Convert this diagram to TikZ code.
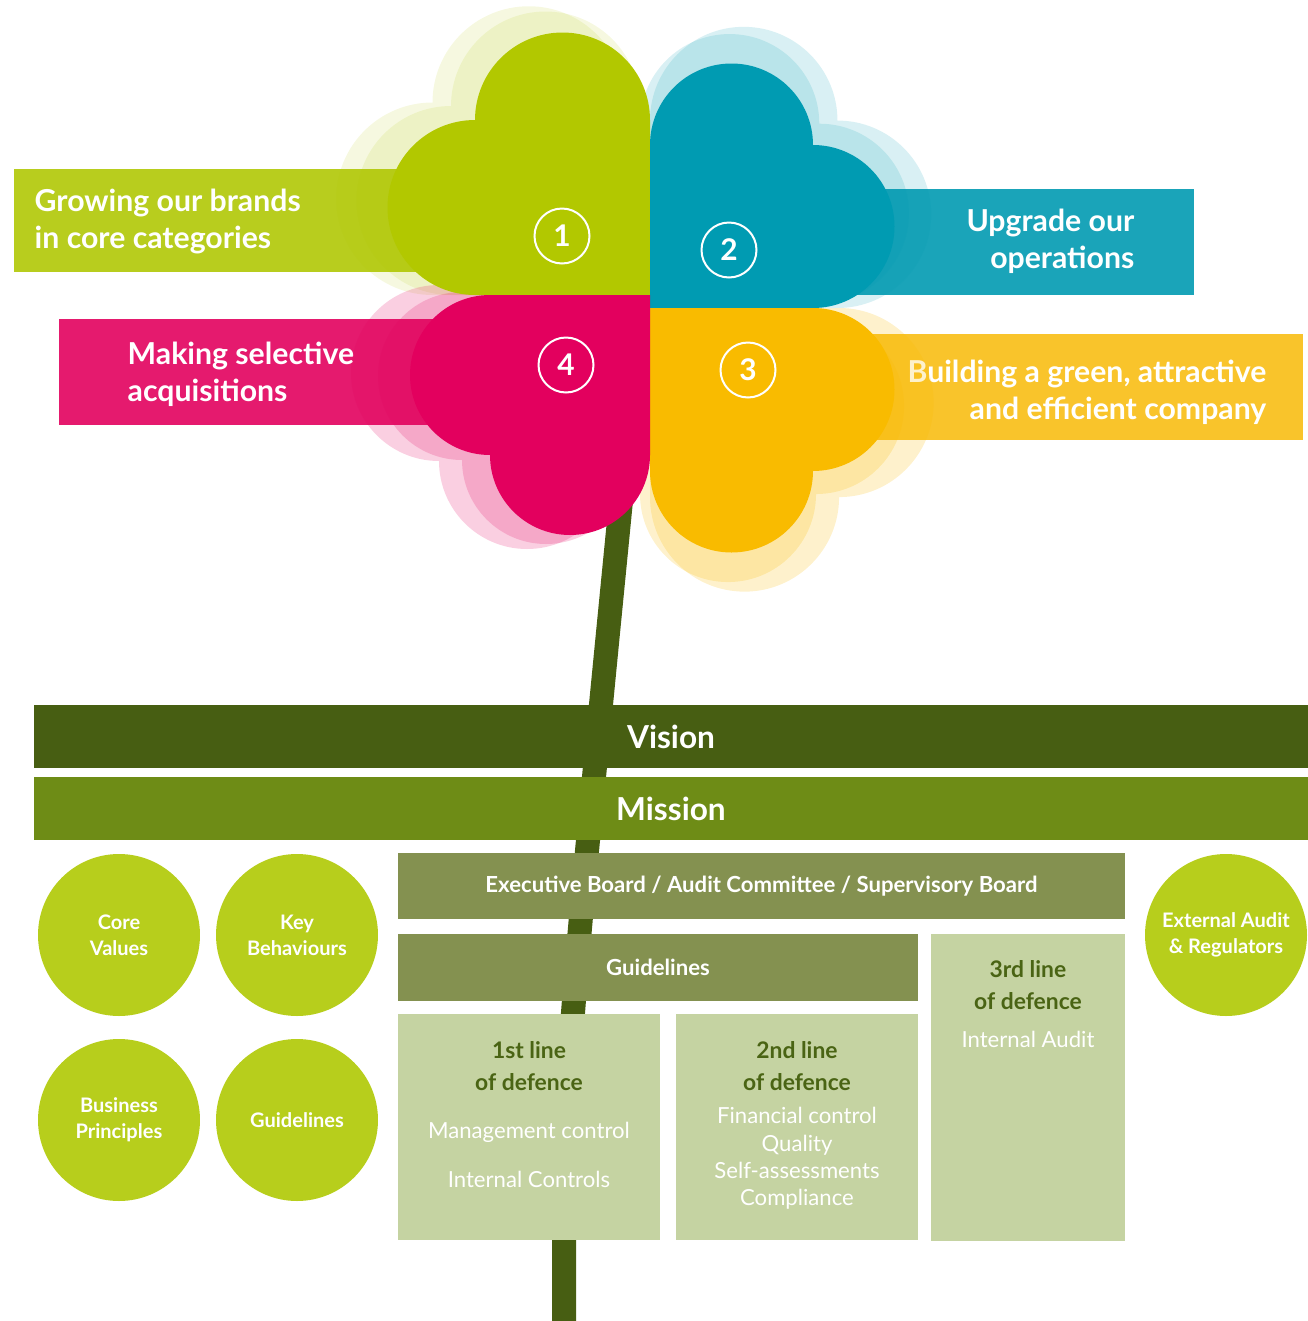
\documentclass[tikz,border=0pt]{standalone}
\usepackage{fontspec}
\setmainfont{Lato}
\definecolor{leafgreen}{HTML}{B2C800}
\definecolor{leafteal}{HTML}{009BB2}
\definecolor{leafsun}{HTML}{F9BB00}
\definecolor{leafrose}{HTML}{E3005E}
\definecolor{bargreen}{HTML}{B8CD1E}
\definecolor{barteal}{HTML}{1AA4B9}
\definecolor{barsun}{HTML}{F9C42B}
\definecolor{barrose}{HTML}{E51A6E}
\definecolor{stemgreen}{HTML}{475E12}
\definecolor{missiongreen}{HTML}{6E8C16}
\definecolor{boardgreen}{HTML}{849150}
\definecolor{sage}{HTML}{C5D3A2}
\definecolor{defencetext}{HTML}{4A6414}
\definecolor{valuegreen}{HTML}{B7CE1C}

% one heart shaped leaf, inner corner at the origin, opening towards -x/-y
\newcommand{\leafpath}[1]{(0,0) -- (-#1,0) arc[start angle=90,end angle=270,radius=#1/2] arc[start angle=180,end angle=360,radius=#1/2] -- cycle}

\begin{document}
\begin{tikzpicture}[
    x=0.1cm,y=-0.1cm,
    bannertext/.style={font=\fontsize{8.6}{10.6}\selectfont\bfseries, text=white, inner sep=0pt},
    ghost/.style={fill opacity=#1},
    badge/.style={circle, draw=white, line width=0.57pt, minimum size=0.55cm, inner sep=0pt, text=white, font=\fontsize{8.5}{10}\selectfont\bfseries},
    bar/.style={minimum width=12.74cm, minimum height=0.63cm, inner sep=0pt, text=white, font=\fontsize{9}{11}\selectfont\bfseries},
    value/.style={circle, fill=valuegreen, minimum size=1.62cm, inner sep=0pt, align=center, text=white, font=\fontsize{5.7}{7.4}\selectfont\bfseries},
    board/.style={fill=boardgreen, inner sep=0pt, text=white, font=\fontsize{6.3}{7.5}\selectfont\bfseries},
    defence/.style={fill=sage, inner sep=0pt},
    linehead/.style={align=center, text=defencetext, font=\fontsize{6.5}{9.1}\selectfont\bfseries},
    linebody/.style={align=center, text=white, font=\fontsize{6.3}{7.8}\selectfont}
  ]
    \useasboundingbox (0,0) rectangle (130.8,132.1);

    % stem
    \draw[stemgreen, line width=0.24cm] (62.3,48) .. controls (56.4,108) .. (56.4,132.1);

    % banners
    \fill[bargreen] (1.4,16.9) rectangle (48,27.2);
    \fill[barteal] (82,18.9) rectangle (119.4,29.5);
    \fill[barsun] (82,33.4) rectangle (130.3,44.0);
    \fill[barrose] (5.9,31.9) rectangle (48,42.5);
    \node[bannertext, anchor=west, align=left] (brands) at (3.4,22.15) {Growing our brands\\in core categories};
    \node[bannertext, anchor=east, align=right] (operations) at (113.5,24.15) {Upgrade our\\operations};
    \node[bannertext, anchor=east, align=right] (green) at (126.7,39.25) {Building a green, attractive\\and efficient company};
    \node[bannertext, anchor=west, align=left] (acquisitions) at (12.7,37.4) {Making selective\\acquisitions};

    % soft shadows of the leaves
    \fill[leafgreen, ghost=0.12, shift={(62.5,29.5)}, scale=1.1] \leafpath{17.5};
    \fill[leafgreen, ghost=0.12, shift={(64,29.5)}, scale=1.08] \leafpath{17.5};
    \fill[leafteal, ghost=0.15, shift={(65,30.8)}, xscale=-1, scale=1.15] \leafpath{16.3};
    \fill[leafteal, ghost=0.15, shift={(64,30.3)}, xscale=-1, scale=1.1] \leafpath{16.3};
    \fill[leafsun, ghost=0.2, shift={(65,30.8)}, xscale=-1, yscale=-1, scale=1.16] \leafpath{16.3};
    \fill[leafsun, ghost=0.2, shift={(64,31.8)}, xscale=-1, yscale=-1, scale=1.08] \leafpath{16.3};
    \fill[leafrose, ghost=0.19, shift={(61.5,28.5)}, yscale=-1, scale=1.1] \leafpath{16};
    \fill[leafrose, ghost=0.19, shift={(63,29.2)}, yscale=-1, scale=1.05] \leafpath{16};

    % leaves
    \fill[leafgreen, shift={(65,29.5)}] \leafpath{17.5};
    \fill[leafteal, shift={(65,30.8)}, xscale=-1] \leafpath{16.3};
    \fill[leafsun, shift={(65,30.8)}, xscale=-1, yscale=-1] \leafpath{16.3};
    \fill[leafrose, shift={(65,29.5)}, yscale=-1] \leafpath{16};

    \node[badge] (one) at (56.2,23.6) {1};
    \node[badge] (two) at (72.9,25) {2};
    \node[badge] (three) at (74.8,37) {3};
    \node[badge] (four) at (56.6,36.5) {4};

    % vision and mission
    \node[bar, fill=stemgreen] (vision) at (67.1,73.65) {Vision};
    \node[bar, fill=missiongreen] (mission) at (67.1,80.85) {Mission};

    % values
    \node[value] (corevalues) at (11.9,93.5) {Core\\Values};
    \node[value] (behaviours) at (29.7,93.5) {Key\\Behaviours};
    \node[value] (principles) at (11.9,112) {Business\\Principles};
    \node[value] (guidecircle) at (29.7,112) {Guidelines};
    \node[value] (external) at (122.6,93.5) {External Audit\\\& Regulators};

    % governance
    \node[board, minimum width=7.27cm, minimum height=0.66cm] (execboard) at (76.15,88.6) {Executive Board / Audit Committee / Supervisory Board};
    \node[board, minimum width=5.2cm, minimum height=0.67cm] (guidelines) at (65.8,96.7) {Guidelines};
    \node[defence, minimum width=2.62cm, minimum height=2.26cm] (firstline) at (52.9,112.7) {};
    \node[defence, minimum width=2.42cm, minimum height=2.26cm] (secondline) at (79.7,112.7) {};
    \node[defence, minimum width=1.94cm, minimum height=3.07cm] (thirdline) at (102.8,108.75) {};

    \node[linehead] (firsthead) at (52.9,106.6) {1st line\\of defence};
    \node[linebody, font=\fontsize{6.3}{14}\selectfont] (firstbody) at (52.9,115.5) {Management control\\Internal Controls};
    \node[linehead] (secondhead) at (79.7,106.6) {2nd line\\of defence};
    \node[linebody] (secondbody) at (79.7,115.85) {Financial control\\Quality\\Self-assessments\\Compliance};
    \node[linehead] (thirdhead) at (102.8,98.5) {3rd line\\of defence};
    \node[linebody] (thirdbody) at (102.8,103.9) {Internal Audit};
  \end{tikzpicture}
\end{document}
